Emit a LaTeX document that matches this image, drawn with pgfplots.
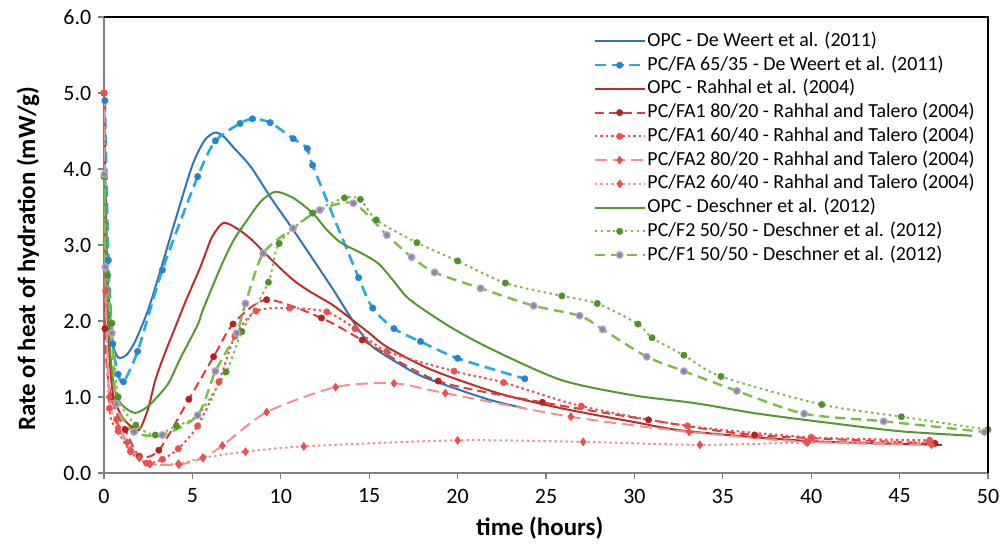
\documentclass[border=0pt]{standalone}
\usepackage{pgfplots}
\pgfplotsset{compat=1.18}
\usepackage{fontspec}
\setmainfont{Carlito}
\definecolor{cBlue}{RGB}{46,117,182}
\definecolor{cCyan}{RGB}{35,172,220}
\definecolor{cCyanMk}{RGB}{40,130,210}
\definecolor{cDRed}{RGB}{190,45,45}
\definecolor{cRed}{RGB}{222,60,60}
\definecolor{cRedMk}{RGB}{180,35,35}
\definecolor{cRed2}{RGB}{236,80,80}
\definecolor{cPink}{RGB}{242,145,145}
\definecolor{cPinkMk}{RGB}{232,80,80}
\definecolor{cGreen}{RGB}{84,152,46}
\definecolor{cLGreen}{RGB}{122,190,66}
\definecolor{cGreenMk}{RGB}{80,145,40}
\definecolor{cGrayMk}{RGB}{140,140,140}
\definecolor{cPurple}{RGB}{185,165,215}
\begin{document}
\fontsize{20}{24}\selectfont
\begin{tikzpicture}
\begin{axis}[
  name=ax,
  scale only axis, width=884bp, height=456bp,
  xmin=0, xmax=50, ymin=0, ymax=6,
  axis x line*=bottom, axis y line*=left,
  axis line style={color=gray, line width=1.4bp, -},
  xtick={0,5,...,50}, ytick={0,1,...,6},
  tick align=outside, major tick length=6bp,
  tick style={color=gray, line width=1.2bp},
  /pgf/number format/assume math mode=true,
  yticklabel style={/pgf/number format/.cd, fixed, fixed zerofill, precision=1},
  ticklabel style={font=\fontsize{22}{26}\selectfont},
  xticklabel style={yshift=-3bp},
  xlabel={\textbf{time (hours)}},
  ylabel={\textbf{Rate of heat of hydration (mW/g)}},
  label style={font=\fontsize{25}{28}\selectfont},
  xlabel style={at={(axis description cs:0.493,-0.12)}, anchor=center},
  ylabel style={at={(axis description cs:-0.086,0.47)}, anchor=center},
  every axis plot/.append style={smooth, tension=0.45, line width=2bp},
  legend image code/.code={\draw[mark repeat=2,mark phase=2,#1] plot coordinates {(0bp,0bp) (25bp,0bp) (50bp,0bp)};},
  legend style={draw=none, fill=white, at={(rel axis cs:0.55,0.975)}, anchor=north west,
    font=\fontsize{20}{23}\selectfont, row sep=2bp,
    nodes={inner sep=1.5bp, text height=0.72em, text depth=0.22em}},
  legend cell align=left,
]
% OPC - De Weert
\addplot[cBlue, no markers] coordinates {
(0,4.9) (0.1,3.6) (0.25,2.4) (0.45,1.75) (0.8,1.52) (1.3,1.56) (1.8,1.75) (2.5,2.15) (3.2,2.67) (4.0,3.3) (5.0,4.05) (5.7,4.38) (6.3,4.48) (6.8,4.42) (7.3,4.29) (8.3,4.03) (9.5,3.6) (10.7,3.2) (12.0,2.75) (13.0,2.4) (14.3,1.92) (15.2,1.66) (16.6,1.45) (18.0,1.27) (20.4,1.07) (22.0,0.95) (23.8,0.85)};
\addlegendentry{OPC - De Weert et al. (2011)}
% PC/FA 65/35 - De Weert
\addplot[cCyan, dash pattern=on 11bp off 6bp, line width=2.6bp, mark=*, mark size=3.2bp, mark options={solid, fill=cCyanMk, draw=cCyanMk, line width=0.5bp}] coordinates {
(0.05,4.9) (0.25,2.8) (0.5,1.7) (0.8,1.3) (1.1,1.2) (1.9,1.6) (3.3,2.67) (5.3,3.9) (6.3,4.37) (7.7,4.6) (8.4,4.66) (9.4,4.61) (10.7,4.4) (11.5,4.27) (11.8,4.05) (14.4,2.57) (15.2,2.17) (16.4,1.9) (17.9,1.73) (20.0,1.51) (23.8,1.24)};
\addlegendentry{PC/FA 65/35 - De Weert et al. (2011)}
% OPC - Rahhal
\addplot[cDRed, no markers] coordinates {
(0,5.0) (0.1,3.2) (0.25,1.8) (0.5,1.05) (1.0,0.75) (1.5,0.62) (2.0,0.57) (2.5,0.85) (2.9,1.22) (3.4,1.55) (4.0,1.9) (4.6,2.25) (5.45,2.71) (6.1,3.1) (6.75,3.29) (7.5,3.22) (8.3,3.08) (9.5,2.8) (10.7,2.54) (11.7,2.38) (13.0,2.2) (14.9,1.86) (16.0,1.66) (18.5,1.36) (22.3,1.05) (25.9,0.85) (30,0.67) (33,0.55) (39.9,0.42) (47.4,0.37)};
\addlegendentry{OPC - Rahhal et al. (2004)}
% PC/FA1 80/20
\addplot[cRed, dash pattern=on 9bp off 5bp, mark=*, mark size=3.2bp, mark options={solid, fill=cRedMk, draw=cRedMk, line width=0.5bp}] coordinates {
(0,5.0) (0.05,1.9) (0.4,1.0) (1.2,0.57) (2.0,0.22) (3.1,0.3) (4.8,0.97) (6.2,1.53) (7.3,1.96) (9.2,2.28) (12.3,2.04) (14.6,1.75) (18.9,1.21) (24.8,0.93) (30.8,0.7) (36.8,0.5) (47.0,0.39)};
\addlegendentry{PC/FA1 80/20 - Rahhal and Talero (2004)}
% PC/FA1 60/40
\addplot[cRed2, dash pattern=on 2.5bp off 3bp, mark=*, mark size=3.2bp, mark options={solid, fill=cRed2, draw=cRed2, line width=0.5bp}] coordinates {
(0,5.0) (0.1,2.4) (0.3,0.85) (0.8,0.55) (1.5,0.28) (2.4,0.13) (3.3,0.18) (4.2,0.32) (5.3,0.62) (6.5,1.2) (7.4,1.8) (8.6,2.13) (10.5,2.17) (12.6,2.12) (14.2,1.9) (16.0,1.6) (19.8,1.34) (22.6,1.19) (27.0,0.88) (33.0,0.62) (40.0,0.47) (46.7,0.43)};
\addlegendentry{PC/FA1 60/40 - Rahhal and Talero (2004)}
% PC/FA2 80/20
\addplot[cPink, dash pattern=on 12bp off 6bp, mark=diamond*, mark size=4bp, mark options={solid, fill=cPinkMk, draw=cPinkMk, line width=0.5bp}] coordinates {
(0,5.0) (0.1,2.4) (0.3,1.0) (0.7,0.7) (1.3,0.4) (2.0,0.2) (2.6,0.12) (4.25,0.11) (5.6,0.2) (6.7,0.36) (9.2,0.8) (13.1,1.13) (16.4,1.18) (19.3,1.05) (26.4,0.74) (33.1,0.54) (39.7,0.41) (46.8,0.37)};
\addlegendentry{PC/FA2 80/20 - Rahhal and Talero (2004)}
% PC/FA2 60/40
\addplot[cPink, dash pattern=on 2.5bp off 3bp, mark=diamond*, mark size=4bp, mark options={solid, fill=cRed2, draw=cRed2, line width=0.5bp}] coordinates {
(0,5.0) (0.1,2.4) (0.3,1.0) (0.8,0.6) (1.5,0.3) (2.6,0.12) (4.2,0.12) (5.6,0.2) (8.0,0.28) (11.3,0.35) (20.0,0.43) (27.1,0.41) (33.7,0.37) (39.8,0.40) (46.7,0.41)};
\addlegendentry{PC/FA2 60/40 - Rahhal and Talero (2004)}
% OPC - Deschner
\addplot[cGreen, no markers] coordinates {
(0,3.9) (0.15,2.7) (0.35,1.6) (0.6,1.1) (1.0,0.9) (1.75,0.79) (2.5,0.88) (3.35,1.09) (3.74,1.22) (4.3,1.5) (5.3,1.95) (5.6,2.15) (6.6,2.71) (7.3,3.05) (8.1,3.33) (8.9,3.58) (9.7,3.7) (10.7,3.62) (11.8,3.42) (12.6,3.2) (13.4,3.03) (14.5,2.9) (15.5,2.76) (16.3,2.55) (17.3,2.28) (19.6,1.92) (22.0,1.62) (25.9,1.22) (30,1.02) (33.4,0.92) (37,0.78) (41,0.66) (45,0.55) (49.1,0.49)};
\addlegendentry{OPC - Deschner et al. (2012)}
% PC/F2 50/50
\addplot[cLGreen, dash pattern=on 2.5bp off 3.5bp, mark=*, mark size=3.2bp, mark options={solid, fill=cGreenMk, draw=cGreenMk, line width=0.5bp}] coordinates {
(0,3.9) (0.2,2.6) (0.45,1.97) (0.8,1.0) (1.8,0.63) (2.9,0.5) (4.1,0.62) (5.3,0.76) (6.9,1.33) (7.8,1.86) (9.3,2.51) (9.9,3.02) (11.8,3.42) (13.6,3.62) (14.5,3.6) (15.4,3.33) (17.7,3.03) (20.0,2.79) (22.7,2.5) (25.9,2.33) (27.9,2.23) (30.2,1.96) (31.0,1.78) (32.8,1.55) (34.9,1.27) (40.6,0.9) (45.1,0.74) (50,0.57)};
\addlegendentry{PC/F2 50/50 - Deschner et al. (2012)}
% PC/F1 50/50
\addplot[cLGreen, dash pattern=on 10bp off 6bp, line width=2.4bp, mark=*, mark size=3.4bp, mark options={solid, fill=cGrayMk, draw=cPurple, line width=1.2bp}] coordinates {
(0.02,3.93) (0.08,2.71) (0.45,1.84) (0.7,0.91) (1.7,0.54) (3.3,0.5) (5.3,0.76) (6.3,1.34) (7.5,1.84) (8.0,2.23) (9.0,2.89) (10.7,3.22) (12.2,3.46) (14.1,3.55) (16.0,3.13) (17.4,2.84) (18.7,2.64) (21.3,2.43) (24.3,2.2) (26.9,2.07) (28.2,1.89) (30.7,1.53) (32.8,1.34) (35.8,1.08) (39.6,0.78) (44.1,0.68) (49.8,0.54)};
\addlegendentry{PC/F1 50/50 - Deschner et al. (2012)}
\end{axis}
\draw[black, line width=1.4bp] (ax.north west) -- (ax.north east) -- (ax.south east);
\pgfresetboundingbox
\path[use as bounding box] (-104bp,-71bp) rectangle (900bp,473bp);
\end{tikzpicture}
\end{document}
